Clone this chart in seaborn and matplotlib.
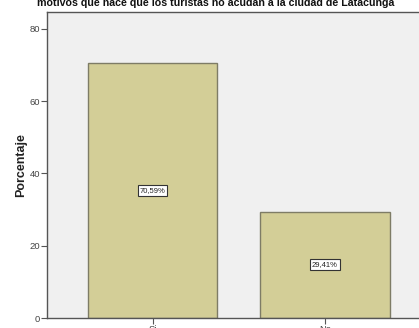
import matplotlib
matplotlib.use("Agg")
import matplotlib.pyplot as plt
import seaborn as sns
import pandas as pd

categorias = ["Si", "No"]
porcentajes = [70.59, 29.41]
etiquetas = ["70,59%", "29,41%"]
titulo = "motivos que hace que los turistas no acudan a la ciudad de Latacunga"
y_ticks = [0, 20, 40, 60, 80]

sns.set_style("white")
plt.rcParams["font.family"] = ["Liberation Sans", "DejaVu Sans"]

W, H = 419, 328
fig = plt.figure(figsize=(W / 100, H / 100), dpi=100)
ax = fig.add_axes([47 / W, 10 / H, 1 - 47 / W, (318 - 12) / H])
ax.set_facecolor("#F0F0F0")

df = pd.DataFrame({"categoria": categorias, "porcentaje": porcentajes})
sns.barplot(data=df, x="categoria", y="porcentaje", color="#D3CE97",
            saturation=1, width=0.75, edgecolor="#7E7C66", linewidth=1.0, ax=ax)

ax.set_xlim(-0.612, 1.545)
ax.set_ylim(0, 84.7)
ax.set_yticks(y_ticks)
ax.set_yticklabels([str(t) for t in y_ticks])

for i, (v, t) in enumerate(zip(porcentajes, etiquetas)):
    ax.text(i, v / 2, t, ha="center", va="center", fontsize=5.5, color="#222222",
            bbox=dict(boxstyle="square,pad=0.25", facecolor="white",
                      edgecolor="#333333", linewidth=0.8))

ax.tick_params(axis="both", which="both", length=4, width=0.8, color="#555555",
               labelsize=6.8, labelcolor="#444444", pad=1, left=True, bottom=True)
ax.set_xlabel("")
ax.set_ylabel("Porcentaje", fontsize=9, fontweight="bold", color="#222222")
ax.yaxis.set_label_coords(-0.054, 0.5)

for side in ["left", "bottom", "top"]:
    ax.spines[side].set_visible(True)
    ax.spines[side].set_color("#555555")
    ax.spines[side].set_linewidth(1.0)
ax.spines["right"].set_visible(False)

fig.text(216 / W, 1 - 3 / H, titulo, ha="center", va="center", fontsize=7.7,
         fontweight="bold", color="#111111")

fig.savefig("out.png", dpi=100, facecolor="white")
